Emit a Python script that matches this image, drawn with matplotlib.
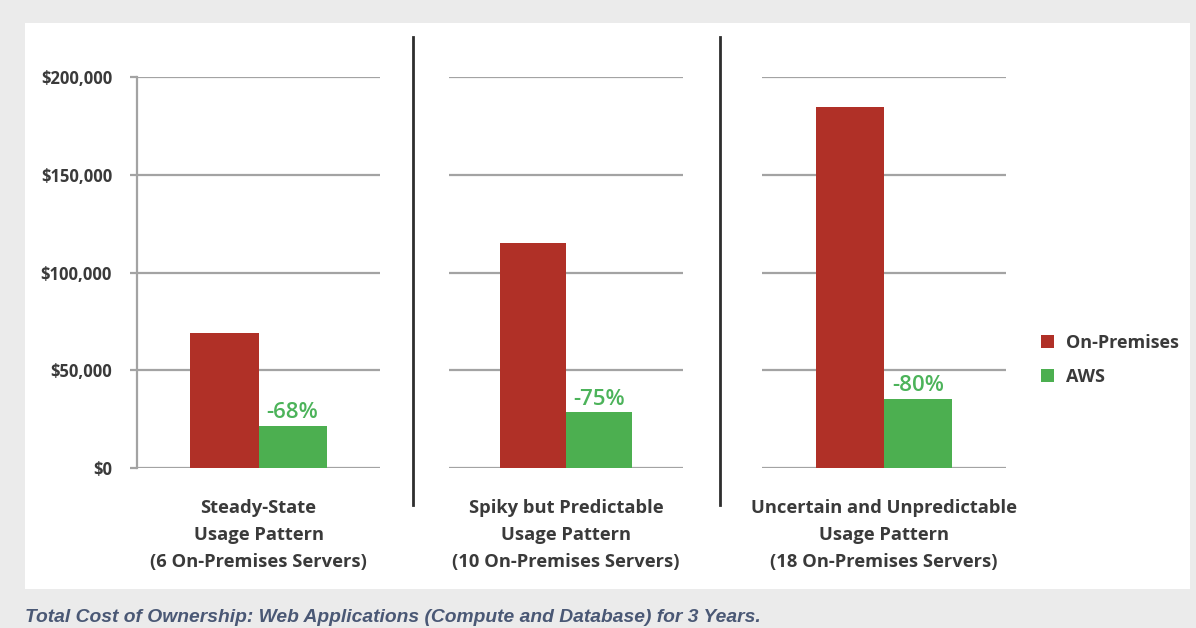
import matplotlib
matplotlib.use("Agg")
import matplotlib.pyplot as plt
from matplotlib.patches import Rectangle, Patch
from matplotlib.lines import Line2D

# ---- data ----
categories = [
    "Steady-State\nUsage Pattern\n(6 On-Premises Servers)",
    "Spiky but Predictable\nUsage Pattern\n(10 On-Premises Servers)",
    "Uncertain and Unpredictable\nUsage Pattern\n(18 On-Premises Servers)",
]
on_premises = [69000, 115000, 184500]
aws = [21500, 28500, 35500]
savings = ["-68%", "-75%", "-80%"]
series_names = ["On-Premises", "AWS"]
y_ticks = [0, 50000, 100000, 150000, 200000]
y_tick_labels = ["$0", "$50,000", "$100,000", "$150,000", "$200,000"]
caption = "Total Cost of Ownership: Web Applications (Compute and Database) for 3 Years."

RED = "#b03027"
GREEN = "#4caf50"
GREEN_TXT = "#4cb35a"
GRID = "#a3a3a3"
TXT = "#3a3a3a"

W, H = 1196, 628
fig = plt.figure(figsize=(W / 100, H / 100), dpi=100)
fig.patch.set_facecolor("#ebebeb")

def px_rect(l, t, r, b):
    return [l / W, (H - b) / H, (r - l) / W, (b - t) / H]

# white panel
fig.add_artist(Rectangle((25 / W, (H - 589) / H), (1190 - 25) / W, (589 - 23) / H,
                         transform=fig.transFigure, facecolor="white",
                         edgecolor="none", zorder=-10))

panels = [(137, 380), (449, 683), (762, 1006)]
top_px, bot_px = 77, 468
bw = 0.28
label_font = "Open Sans"

axes = []
for i, (l, r) in enumerate(panels):
    ax = fig.add_axes(px_rect(l, top_px, r, bot_px))
    ax.set_facecolor("none")
    ax.set_xlim(0, 1)
    ax.set_ylim(0, 200000)
    ax.bar([0.5 - bw / 2], [on_premises[i]], width=bw, color=RED, zorder=3)
    ax.bar([0.5 + bw / 2], [aws[i]], width=bw, color=GREEN, zorder=3)
    ax.annotate(savings[i], xy=(0.5 + bw / 2, aws[i]), xytext=(0, 2),
                textcoords="offset points", ha="center", va="bottom",
                color=GREEN_TXT, fontsize=16, fontweight="semibold",
                family=label_font, zorder=4)
    ax.set_yticks(y_ticks)
    ax.yaxis.grid(True, color=GRID, linewidth=1.6)
    ax.set_axisbelow(True)
    for s in ["top", "right", "bottom", "left"]:
        ax.spines[s].set_visible(False)
    ax.set_xticks([0.5])
    ax.set_xticklabels([categories[i]], fontsize=13.2, fontweight="bold",
                       family=label_font, color=TXT, linespacing=1.65)
    ax.tick_params(axis="x", length=0, pad=22)
    if i == 0:
        ax.spines["left"].set_visible(True)
        ax.spines["left"].set_color(GRID)
        ax.spines["left"].set_linewidth(1.6)
        ax.set_yticklabels(y_tick_labels, fontsize=12, fontweight="bold",
                           family=label_font, color=TXT)
        ax.tick_params(axis="y", length=5, width=1.6, color=GRID, pad=13)
    else:
        ax.set_yticklabels([])
        ax.tick_params(axis="y", length=0)
    axes.append(ax)

# separator lines
for xp in (413, 720):
    fig.add_artist(Line2D([xp / W, xp / W], [(H - 37) / H, (H - 505) / H],
                          transform=fig.transFigure, color="#2e2e2e", linewidth=2))

# legend
handles = [Patch(facecolor=RED, edgecolor="none"), Patch(facecolor=GREEN, edgecolor="none")]
fig.legend(handles, series_names, loc="center left",
           bbox_to_anchor=(1025 / W, (H - 360) / H), frameon=False,
           prop={"family": label_font, "weight": "bold", "size": 13},
           handlelength=0.7, handleheight=0.7, handletextpad=0.65,
           labelspacing=0.9, labelcolor=TXT)

# caption
fig.text(25 / W, (H - 617) / H, caption, ha="left", va="center",
         fontsize=13.9, style="italic", fontweight="bold",
         family="Liberation Sans", color="#4a5875")

fig.savefig("out.png", dpi=100, facecolor=fig.get_facecolor())
